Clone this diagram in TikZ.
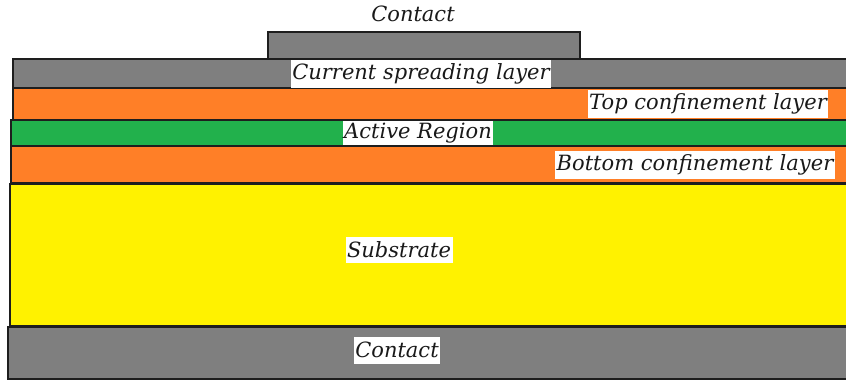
\documentclass[tikz,border=0pt]{standalone}
\usepackage{fontspec}
\setmainfont{DejaVu Serif}
\definecolor{cgray}{RGB}{127,127,127}
\definecolor{corange}{RGB}{255,127,39}
\definecolor{cgreen}{RGB}{34,177,76}
\definecolor{cyellow}{RGB}{255,242,0}
\definecolor{cedge}{RGB}{30,30,30}
\tikzset{
  layer/.style={draw=cedge, line width=1.2pt},
  lbl/.style={fill=white, inner sep=1.5pt, font=\fontsize{21}{23}\selectfont\itshape, text=black!90},
}
\begin{document}
\begin{tikzpicture}[x=1pt,y=-1pt]
\useasboundingbox (0,0) rectangle (846,381);
% layers
\path[layer, fill=cgray]   (268,32) rectangle (580,59);
\path[layer, fill=cgray]   (13,59) rectangle (852,88);
\path[layer, fill=corange] (13,88) rectangle (852,120);
\path[layer, fill=cgreen]  (11,120) rectangle (852,146);
\path[layer, fill=corange] (11,146) rectangle (852,183);
\path[layer, fill=cyellow] (10,184) rectangle (852,326);
\path[layer, fill=cgray]   (8,327) rectangle (852,379);
% labels
\node[lbl, fill=none] (ctop) at (413,14) {Contact};
\node[lbl, minimum height=28pt] (csl) at (421,73.5) {Current spreading layer};
\node[lbl, minimum height=28pt] (tcl) at (708,104) {Top confinement layer};
\node[lbl, minimum height=23pt] (ar) at (418,133) {Active Region};
\node[lbl, minimum height=28pt] (bcl) at (695,165) {Bottom confinement layer};
\node[lbl, minimum height=26pt] (sub) at (399,249.5) {Substrate};
\node[lbl, minimum height=27pt] (cbot) at (397,350) {Contact};
\end{tikzpicture}
\end{document}
